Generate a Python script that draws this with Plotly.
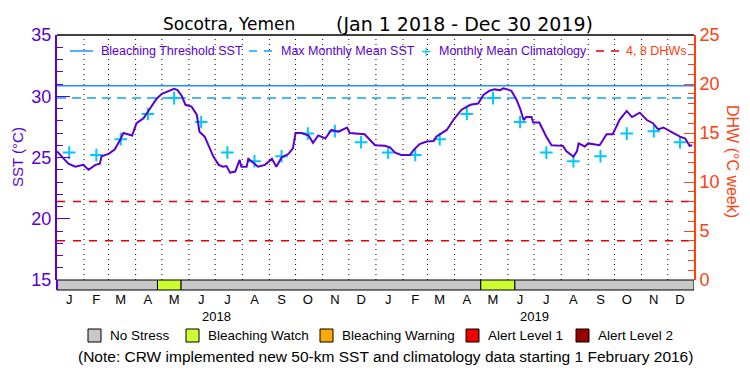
import plotly.graph_objects as go

# ---------------- data ----------------
sst_dates = [
    "2018-01-01", "2018-01-06", "2018-01-14", "2018-01-22", "2018-01-31", "2018-02-06", "2018-02-14",
    "2018-02-19", "2018-02-21", "2018-03-01", "2018-03-08", "2018-03-14", "2018-03-18", "2018-03-28",
    "2018-04-02", "2018-04-10", "2018-04-19", "2018-04-25", "2018-05-01", "2018-05-08", "2018-05-15",
    "2018-05-19", "2018-05-24", "2018-05-28", "2018-06-04", "2018-06-10", "2018-06-13", "2018-06-19",
    "2018-06-25", "2018-06-29", "2018-07-05", "2018-07-10", "2018-07-14", "2018-07-18", "2018-07-24",
    "2018-07-29", "2018-07-31", "2018-08-06", "2018-08-08", "2018-08-14", "2018-08-19", "2018-08-27",
    "2018-09-04", "2018-09-09", "2018-09-15", "2018-09-23", "2018-09-28", "2018-10-01", "2018-10-08",
    "2018-10-16", "2018-10-21", "2018-10-27", "2018-11-04", "2018-11-11", "2018-11-19", "2018-11-29",
    "2018-12-02", "2018-12-19", "2018-12-31",
    "2019-01-11", "2019-01-17", "2019-01-23", "2019-01-30", "2019-02-09", "2019-02-13", "2019-02-20",
    "2019-02-28", "2019-03-08", "2019-03-11", "2019-03-23", "2019-04-01", "2019-04-09", "2019-04-19",
    "2019-04-28", "2019-05-04", "2019-05-11", "2019-05-17", "2019-05-23", "2019-05-27", "2019-06-05",
    "2019-06-11", "2019-06-15", "2019-06-19", "2019-06-22", "2019-06-28", "2019-06-30", "2019-07-07",
    "2019-07-15", "2019-07-21", "2019-08-03", "2019-08-07", "2019-08-15", "2019-08-19", "2019-08-21",
    "2019-08-28", "2019-09-01", "2019-09-07", "2019-09-14", "2019-09-22", "2019-09-29", "2019-10-07",
    "2019-10-15", "2019-10-21", "2019-10-30", "2019-11-07", "2019-11-14", "2019-11-20", "2019-11-26",
    "2019-12-05", "2019-12-15", "2019-12-21", "2019-12-26", "2019-12-29",
]
sst_values = [
    25.5, 25.1, 24.5, 24.25, 24.4, 24.0, 24.4,
    24.5, 25.1, 25.3, 25.65, 26.4, 27.0, 26.8,
    27.8, 28.2, 29.15, 29.8, 30.2, 30.4, 30.6,
    30.5, 30.0, 29.3, 29.15, 28.5, 27.1, 26.7,
    25.75, 25.07, 24.4, 24.25, 24.3, 23.76, 23.85,
    24.8, 24.25, 24.25, 24.9, 24.5, 24.25, 24.4,
    24.9, 24.25, 25.0, 25.3, 25.75, 27.0, 27.0,
    26.8, 26.2, 26.8, 26.55, 27.25, 27.1, 27.45,
    27.0, 26.9, 26.0,
    25.95, 25.83, 25.4, 25.2, 25.2, 25.6, 26.1,
    26.3, 26.35, 26.7, 27.25, 28.2, 28.9, 29.3,
    29.4, 30.1, 30.45, 30.56, 30.5, 30.65, 30.45,
    29.7, 29.0, 28.06, 28.3, 28.3, 27.85, 27.85,
    26.7, 26.0, 25.95, 25.5, 25.07, 25.5, 26.15,
    25.9, 26.15, 26.1, 26.0, 26.9, 26.9, 28.1,
    28.8, 28.3, 28.66, 28.06, 27.8, 27.3, 27.45,
    27.1, 26.7, 26.55, 25.95, 26.0,
]

clim_dates = [
    "2018-01-15", "2018-02-15", "2018-03-15", "2018-04-15", "2018-05-15", "2018-06-15",
    "2018-07-15", "2018-08-15", "2018-09-15", "2018-10-15", "2018-11-15", "2018-12-15",
    "2019-01-15", "2019-02-15", "2019-03-15", "2019-04-15", "2019-05-15", "2019-06-15",
    "2019-07-15", "2019-08-15", "2019-09-15", "2019-10-15", "2019-11-15", "2019-12-15",
]
clim_values = [
    25.4, 25.2, 26.5, 28.55, 29.85, 27.9, 25.4, 24.7, 25.1, 26.95, 27.15, 26.25,
    25.4, 25.2, 26.5, 28.55, 29.85, 27.9, 25.4, 24.7, 25.1, 26.95, 27.15, 26.25,
]

mmm_sst = 29.85
threshold_sst = 30.85
dhw_levels = [4, 8]

date_start = "2018-01-01"
date_end = "2019-12-31"

month_letters = ["J", "F", "M", "A", "M", "J", "J", "A", "S", "O", "N", "D"] * 2
month_starts = [
    "2018-02-01", "2018-03-01", "2018-04-01", "2018-05-01", "2018-06-01", "2018-07-01",
    "2018-08-01", "2018-09-01", "2018-10-01", "2018-11-01", "2018-12-01", "2019-01-01",
    "2019-02-01", "2019-03-01", "2019-04-01", "2019-05-01", "2019-06-01", "2019-07-01",
    "2019-08-01", "2019-09-01", "2019-10-01", "2019-11-01", "2019-12-01",
]
year_labels = ["2018", "2019"]
year_mid = ["2018-07-02", "2019-07-02"]

# alert stress periods: start, end, level index
stress_start = ["2018-01-01", "2018-04-26", "2018-05-23", "2019-05-01", "2019-06-09"]
stress_end = ["2018-04-26", "2018-05-23", "2019-05-01", "2019-06-09", "2019-12-31"]
stress_level = [0, 1, 0, 1, 0]
level_names = ["No Stress", "Bleaching Watch", "Bleaching Warning", "Alert Level 1", "Alert Level 2"]
level_colors = ["#c8c8c8", "#ccff33", "#ffaa00", "#ee0000", "#990000"]

# ---------------- styling ----------------
OFF = 8  # page body margin of the browser
W, H = 750, 375
ML, MR, MT, MB = 57, 56, 35, 85
PW, PH = W - ML - MR, H - MT - MB
BAR_H = 10  # px height of the stress bar

PURPLE = "#5a00d2"
ORANGE = "#ff4010"
BLUE = "#1e90ff"
BLUE2 = "#10a0ff"
CYAN = "#00c8ff"
RED = "#e80000"
FONT = "Liberation Sans, Arial, sans-serif"
WIDE = "DejaVu Sans, Liberation Sans, sans-serif"


def px(x):
    return (x - ML) / PW


def py(y):
    return (MT + PH - y) / PH


def label(text, x, y, size, color, xanchor="center", angle=0, family=FONT):
    return dict(text=text, x=px(x), y=py(y), xref="paper", yref="paper", xanchor=xanchor,
                yanchor="middle", textangle=angle, showarrow=False,
                font=dict(size=size, color=color, family=family))


fig = go.Figure()

# horizontal reference lines
fig.add_trace(go.Scatter(x=[date_start, date_end], y=[threshold_sst] * 2, mode="lines",
                         line=dict(color=BLUE, width=1.5), showlegend=False, hoverinfo="skip"))
fig.add_trace(go.Scatter(x=[date_start, date_end], y=[mmm_sst] * 2, mode="lines",
                         line=dict(color=BLUE2, width=1.5, dash="9px,6px"), showlegend=False,
                         hoverinfo="skip"))
for lvl in dhw_levels:
    fig.add_trace(go.Scatter(x=[date_start, date_end], y=[lvl] * 2, mode="lines", yaxis="y2",
                             line=dict(color=RED, width=1.5, dash="8px,8px"), showlegend=False,
                             hoverinfo="skip"))

# climatology markers
fig.add_trace(go.Scatter(x=clim_dates, y=clim_values, mode="markers",
                         marker=dict(symbol="cross-thin", size=9, line=dict(color=CYAN, width=2)),
                         showlegend=False))
# SST line
fig.add_trace(go.Scatter(x=sst_dates, y=sst_values, mode="lines",
                         line=dict(color=PURPLE, width=2), showlegend=False))

shapes = []
# monthly dotted gridlines
for d in month_starts:
    shapes.append(dict(type="line", xref="x", yref="paper", x0=d, x1=d, y0=BAR_H / PH, y1=1,
                       line=dict(color="black", width=1, dash="1px,4px"), layer="below"))
# stress bar
for s, e, l in zip(stress_start, stress_end, stress_level):
    shapes.append(dict(type="rect", xref="x", yref="paper", x0=s, x1=e, y0=0, y1=BAR_H / PH,
                       fillcolor=level_colors[l], line=dict(color="black", width=1), layer="above"))
# frame pieces
shapes.append(dict(type="line", xref="paper", yref="paper", x0=0, x1=1, y0=1, y1=1,
                   line=dict(color="black", width=1.5)))
shapes.append(dict(type="line", xref="paper", yref="paper", x0=0, x1=0, y0=0, y1=BAR_H / PH,
                   line=dict(color=PURPLE, width=2)))

annotations = []
# title
annotations.append(label("Socotra, Yemen", 229, 24, 17, "black", family=WIDE))
annotations.append(label("(Jan 1 2018 - Dec 30 2019)", 464, 24, 19, "black", family=WIDE))

# top legend
LEG_Y = 51
shapes.append(dict(type="line", xref="paper", yref="paper", x0=px(70), x1=px(93), y0=py(LEG_Y),
                   y1=py(LEG_Y), line=dict(color=BLUE, width=1.5)))
annotations.append(label("Bleaching Threshold SST", 99, LEG_Y, 12.5, PURPLE, "left"))
shapes.append(dict(type="line", xref="paper", yref="paper", x0=px(249), x1=px(274), y0=py(LEG_Y),
                   y1=py(LEG_Y), line=dict(color=BLUE2, width=1.5, dash="8px,7px")))
annotations.append(label("Max Monthly Mean SST", 279, LEG_Y, 12.5, PURPLE, "left"))
annotations.append(label("+", 426, LEG_Y, 17, CYAN))
annotations.append(label("Monthly Mean Climatology", 437, LEG_Y, 12.5, PURPLE, "left"))
shapes.append(dict(type="line", xref="paper", yref="paper", x0=px(596), x1=px(621), y0=py(LEG_Y),
                   y1=py(LEG_Y), line=dict(color=RED, width=1.5, dash="8px,7px")))
annotations.append(label("4, 8 DHWs", 624, LEG_Y, 12.5, ORANGE, "left"))

# year labels
for yl, ym in zip(year_labels, year_mid):
    annotations.append(dict(text=yl, x=ym, y=py(316), xref="x", yref="paper", xanchor="center",
                            yanchor="middle", showarrow=False,
                            font=dict(size=13, color="black", family=FONT)))

# bottom legend
box_x = [88, 186, 320, 466, 576]
for i, name in enumerate(level_names):
    shapes.append(dict(type="rect", xref="paper", yref="paper", x0=px(box_x[i]), x1=px(box_x[i] + 13),
                       y0=py(342), y1=py(329), fillcolor=level_colors[i],
                       line=dict(color="black", width=1)))
    annotations.append(label(name, box_x[i] + 20, 335.5, 13.5, "black", "left"))
annotations.append(label("(Note: CRW implemented new 50-km SST and climatology data starting 1 February 2016)",
                         385, 356, 15.5, "black"))

# axis titles
annotations.append(label("SST (°C)", 17, 157, 15, PURPLE, angle=-90))
annotations.append(label("DHW (°C week)", 733, 161, 16, ORANGE, angle=90))

tick_mid = [d[:8] + "15" for d in ["2018-01-01"] + month_starts]

fig.update_layout(
    width=W - OFF, height=H - OFF,
    margin=dict(l=ML - OFF, r=MR, t=MT - OFF, b=MB, pad=0, autoexpand=False),
    paper_bgcolor="white", plot_bgcolor="white",
    font=dict(family=FONT),
    showlegend=False,
    xaxis=dict(type="date", range=[date_start, date_end], anchor="free", position=0,
               tickmode="array", tickvals=tick_mid, ticktext=month_letters, ticks="",
               showgrid=False, showline=False, zeroline=False, automargin=False,
               tickfont=dict(size=13, color="black", family=FONT)),
    yaxis=dict(domain=[BAR_H / PH, 1], range=[15, 35], tickvals=[15, 20, 25, 30, 35],
               ticks="inside", ticklen=13, tickwidth=1, tickcolor=PURPLE,
               minor=dict(dtick=1, ticks="inside", ticklen=6, tickcolor=PURPLE, showgrid=False),
               showline=True, linecolor=PURPLE, linewidth=2, showgrid=False, zeroline=False,
               automargin=False, tickfont=dict(size=18, color=PURPLE, family=FONT)),
    yaxis2=dict(overlaying="y", side="right", anchor="x", range=[0, 25], tickvals=[0, 5, 10, 15, 20, 25],
                ticks="inside", ticklen=10, tickwidth=1, tickcolor=ORANGE,
                minor=dict(dtick=1, ticks="inside", ticklen=6, tickcolor=ORANGE, showgrid=False),
                showline=True, linecolor=ORANGE, linewidth=2, showgrid=False, zeroline=False,
                automargin=False, tickfont=dict(size=18, color=ORANGE, family=FONT)),
    shapes=shapes,
    annotations=annotations,
)

fig.write_html("out.html")
